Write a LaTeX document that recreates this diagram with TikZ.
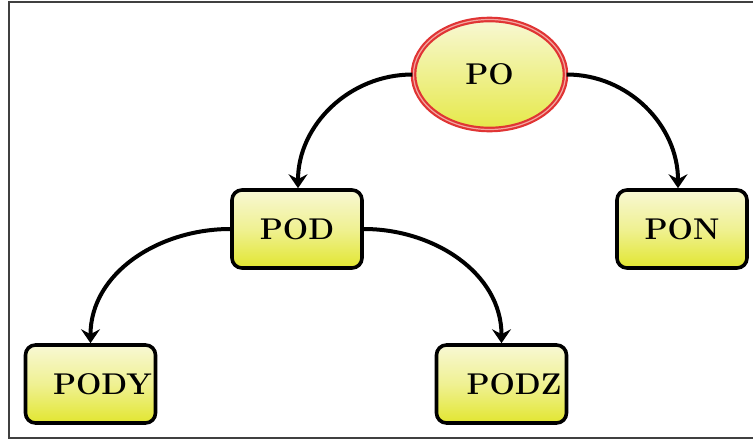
\documentclass[tikz,border=0pt]{standalone}
\usetikzlibrary{arrows.meta,shapes.geometric}
\definecolor{boxtop}{HTML}{F8F8D4}
\definecolor{boxbot}{HTML}{E2E630}
\definecolor{ringred}{HTML}{E03434}
\definecolor{ringin}{HTML}{F2A6A0}
\begin{document}
\begin{tikzpicture}[x=1pt,y=-1pt,
  boxnode/.style={draw=black, line width=3.6pt, rounded corners=10pt,
    minimum width=130pt, minimum height=78pt, inner sep=0pt,
    top color=boxtop, bottom color=boxbot, middle color=boxtop!60!boxbot,
    font=\fontsize{30}{34}\selectfont\bfseries},
  ellnode/.style={ellipse, draw=ringred, line width=2.2pt, double=ringin, double distance=1.2pt,
    minimum width=152pt, minimum height=110pt, inner sep=0pt,
    top color=boxtop, bottom color=boxbot!85!boxtop,
    font=\fontsize{30}{34}\selectfont\bfseries},
  conn/.style={draw=black, line width=4pt,
    -{Stealth[length=14pt, width=19pt, inset=5pt]}},
  frameline/.style={draw=black!75, line width=2pt}]
\useasboundingbox (0,0) rectangle (753,442);
\draw[frameline] (753,2) -- (9,2) -- (9,438) -- (753,438);

\node[ellnode] (po) at (489.5,74.5) {PO};
\node[boxnode] (pod) at (297,229) {POD};
\node[boxnode] (pon) at (682,229) {PON};
\node[boxnode, label={[font=\fontsize{30}{34}\selectfont\bfseries, xshift=12pt]center:PODY}] (pody) at (90.5,384) {};
\node[boxnode, label={[font=\fontsize{30}{34}\selectfont\bfseries, xshift=12.5pt]center:PODZ}] (podz) at (501.5,384) {};

\draw[conn] (po.west) to[out=180,in=90] ([xshift=1pt]pod.north);
\draw[conn] (po.east) to[out=0,in=90] ([xshift=-4pt]pon.north);
\draw[conn] (pod.west) to[out=180,in=90] (pody.north);
\draw[conn] (pod.east) to[out=0,in=90] (podz.north);
\end{tikzpicture}
\end{document}
